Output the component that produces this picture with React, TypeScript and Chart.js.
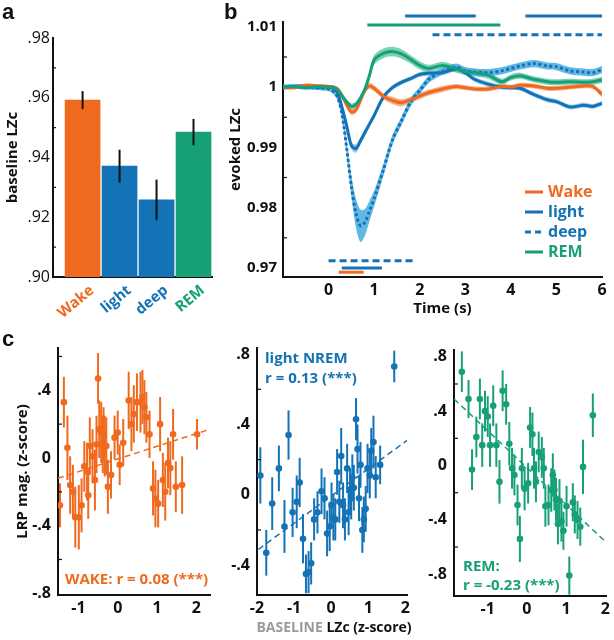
import React, { useEffect, useRef } from "react";
import { Chart, registerables } from "chart.js";

Chart.register(...registerables);

const ORANGE = "#EF6A1E";
const BLUE = "#1472B6";
const GREEN = "#17A078";
const ORANGE_BAND = "rgba(244,150,100,0.75)";
const LIGHT_BAND = "rgba(90,165,220,0.6)";
const DEEP_BAND = "rgba(70,172,225,0.85)";
const GREEN_BAND = "rgba(70,190,150,0.7)";
const INK = "#111111";
const GREY = "#9a9a9a";
const FONT = "'Open Sans', 'DejaVu Sans', sans-serif";

// ---------------- panel a
const STAGES = ["Wake", "light", "deep", "REM"];
const STAGE_POS = [1, 2, 3, 4];
const STAGE_COLORS = [ORANGE, BLUE, BLUE, GREEN];
const BASELINE_LZC = [0.9592, 0.9371, 0.9258, 0.9485];
const BASELINE_ERR = [0.003, 0.0055, 0.0068, 0.0044];
const A_Y_TICKS = [0.9, 0.92, 0.94, 0.96, 0.98];
const A_Y_MINOR = [0.91, 0.93, 0.95, 0.97];

// ---------------- panel b
const TIME = [-1, -0.75, -0.5, -0.25, 0, 0.1, 0.2, 0.3, 0.4, 0.5, 0.6, 0.7, 0.8, 0.9, 1.0, 1.2, 1.4, 1.6, 1.8, 2.0, 2.2, 2.5, 2.8, 3.0, 3.2, 3.5, 3.8, 4.0, 4.2, 4.5, 4.8, 5.0, 5.3, 5.6, 5.8, 6.0];
const WAKE_MEAN = [1.0, 0.9999, 1.0003, 1.0002, 1.0001, 1.0, 0.9997, 0.9985, 0.997, 0.9959, 0.9962, 0.9978, 0.9995, 1.0002, 0.9998, 0.9985, 0.9978, 0.9974, 0.9979, 0.9985, 0.9991, 0.9997, 1.0001, 0.9999, 0.9997, 0.9997, 1.0001, 1.0, 1.0003, 1.0002, 0.9998, 0.9998, 1.0, 1.0002, 1.0001, 0.9988];
const WAKE_SEM = [0.0003, 0.0003, 0.0003, 0.0003, 0.0003, 0.0003, 0.0003, 0.0004, 0.0005, 0.0005, 0.0005, 0.0005, 0.0005, 0.0005, 0.0005, 0.0005, 0.0006, 0.0006, 0.0005, 0.0005, 0.0005, 0.0005, 0.0004, 0.0004, 0.0004, 0.0004, 0.0004, 0.0004, 0.0004, 0.0004, 0.0004, 0.0004, 0.0004, 0.0004, 0.0004, 0.0005];
const LIGHT_MEAN = [1.0, 1.0001, 1.0002, 1.0, 1.0, 0.9998, 0.999, 0.9965, 0.9935, 0.9903, 0.9898, 0.9911, 0.9925, 0.9939, 0.9953, 0.9983, 0.9999, 1.0008, 1.0014, 1.0021, 1.0023, 1.0024, 1.003, 1.0024, 1.0013, 1.0005, 1.0, 0.9999, 0.9998, 0.9988, 0.9979, 0.9976, 0.9967, 0.997, 0.9968, 0.9973];
const LIGHT_SEM = [0.0003, 0.0003, 0.0003, 0.0003, 0.0003, 0.0003, 0.0004, 0.0005, 0.0006, 0.0006, 0.0007, 0.0006, 0.0006, 0.0005, 0.0005, 0.0005, 0.0004, 0.0004, 0.0004, 0.0004, 0.0004, 0.0004, 0.0004, 0.0004, 0.0004, 0.0004, 0.0004, 0.0004, 0.0004, 0.0004, 0.0004, 0.0004, 0.0004, 0.0004, 0.0004, 0.0004];
const DEEP_MEAN = [1.0, 1.0001, 1.0, 0.9999, 0.9997, 0.9993, 0.9983, 0.9953, 0.9897, 0.9836, 0.9791, 0.977, 0.9776, 0.9795, 0.9815, 0.9862, 0.9912, 0.9944, 0.9975, 0.9994, 1.0013, 1.0026, 1.0033, 1.0027, 1.0025, 1.0024, 1.0027, 1.0031, 1.0035, 1.0039, 1.0035, 1.0034, 1.0027, 1.0025, 1.0024, 1.0029];
const DEEP_SEM = [0.0004, 0.0004, 0.0004, 0.0004, 0.0004, 0.0004, 0.0005, 0.0008, 0.0012, 0.0016, 0.0024, 0.0027, 0.0022, 0.0017, 0.0013, 0.001, 0.0008, 0.0007, 0.0007, 0.0006, 0.0006, 0.0006, 0.0006, 0.0006, 0.0006, 0.0006, 0.0006, 0.0006, 0.0006, 0.0006, 0.0006, 0.0006, 0.0006, 0.0006, 0.0006, 0.0006];
const REM_MEAN = [1.0, 1.0001, 0.9999, 1.0001, 1.0, 1.0, 0.9995, 0.9985, 0.9975, 0.9968, 0.9971, 0.9982, 0.9997, 1.002, 1.0045, 1.0056, 1.0059, 1.0055, 1.0046, 1.0036, 1.0031, 1.0036, 1.003, 1.0026, 1.0024, 1.002, 1.0009, 1.0016, 1.0019, 1.0013, 1.0009, 1.0008, 1.0009, 1.0008, 1.0009, 1.0012];
const REM_SEM = [0.0003, 0.0003, 0.0003, 0.0003, 0.0003, 0.0003, 0.0004, 0.0005, 0.0005, 0.0005, 0.0005, 0.0005, 0.0006, 0.0007, 0.0008, 0.0008, 0.0008, 0.0008, 0.0007, 0.0007, 0.0006, 0.0006, 0.0006, 0.0006, 0.0006, 0.0006, 0.0005, 0.0005, 0.0005, 0.0005, 0.0005, 0.0005, 0.0005, 0.0005, 0.0005, 0.0005];
// significance bars: [start, end] in seconds, and their level on the LZc axis
const SIG_LIGHT_TOP = [[1.68, 3.23], [4.32, 6.0]];
const SIG_LIGHT_TOP_LEVEL = 1.0118;
const SIG_REM_TOP = [[0.85, 3.77]];
const SIG_REM_TOP_LEVEL = 1.0103;
const SIG_DEEP_TOP = [[2.28, 6.0]];
const SIG_DEEP_TOP_LEVEL = 1.0087;
const SIG_DEEP_BOTTOM = [[0.0, 1.88]];
const SIG_DEEP_BOTTOM_LEVEL = 0.9712;
const SIG_LIGHT_BOTTOM = [[0.29, 1.17]];
const SIG_LIGHT_BOTTOM_LEVEL = 0.97;
const SIG_WAKE_BOTTOM = [[0.22, 0.77]];
const SIG_WAKE_BOTTOM_LEVEL = 0.9693;
const B_Y_TICKS = [0.97, 0.98, 0.99, 1, 1.01];
const B_Y_MINOR = [0.975, 0.985, 0.995, 1.005];
const B_X_TICKS = [0, 1, 2, 3, 4, 5, 6];
const LEGEND_LABELS = ["Wake", "light", "deep", "REM"];

// ---------------- panel c
const WAKE_X = [-1.47, -1.37, -1.28, -1.21, -1.14, -1.08, -0.99, -0.92, -0.85, -0.78, -0.75, -0.71, -0.64, -0.58, -0.54, -0.5, -0.47, -0.42, -0.38, -0.36, -0.33, -0.29, -0.25, -0.17, -0.08, 0.0, 0.05, 0.14, 0.28, 0.35, 0.41, 0.49, 0.58, 0.63, 0.68, 0.73, 0.81, 0.9, 0.96, 1.03, 1.08, 1.15, 1.21, 1.28, 1.34, 1.41, 1.48, 1.64, 2.02];
const WAKE_Y = [-0.28, 0.33, 0.06, -0.16, -0.2, -0.35, -0.35, -0.28, -0.05, -0.08, -0.22, 0.07, 0.01, -0.13, 0.08, 0.47, 0.17, 0.15, 0.08, 0.14, 0.07, 0.07, -0.17, -0.1, 0.12, 0.15, -0.04, 0.09, 0.34, 0.2, 0.26, 0.33, 0.33, 0.36, 0.3, 0.24, 0.14, -0.18, -0.24, -0.27, 0.2, -0.13, -0.2, -0.03, -0.06, 0.14, -0.17, -0.16, 0.14];
const WAKE_ERR = [0.13, 0.15, 0.19, 0.17, 0.16, 0.18, 0.19, 0.16, 0.15, 0.17, 0.14, 0.17, 0.16, 0.18, 0.17, 0.15, 0.17, 0.18, 0.17, 0.16, 0.18, 0.17, 0.16, 0.14, 0.13, 0.13, 0.12, 0.14, 0.17, 0.16, 0.17, 0.17, 0.18, 0.16, 0.16, 0.15, 0.14, 0.16, 0.17, 0.14, 0.16, 0.16, 0.17, 0.15, 0.16, 0.15, 0.15, 0.17, 0.09];
const WAKE_FIT_X = [-1.52, 2.35];
const WAKE_FIT_Y = [-0.12, 0.17];

const LIGHT_X = [-1.91, -1.75, -1.59, -1.41, -1.26, -1.15, -1.04, -0.93, -0.85, -0.76, -0.68, -0.61, -0.54, -0.46, -0.37, -0.26, -0.18, -0.11, -0.04, 0.01, 0.06, 0.11, 0.16, 0.22, 0.27, 0.32, 0.37, 0.43, 0.47, 0.51, 0.54, 0.57, 0.61, 0.67, 0.71, 0.75, 0.79, 0.84, 0.88, 0.93, 0.98, 1.04, 1.08, 1.14, 1.2, 1.32, 1.7];
const LIGHT_Y = [0.11, -0.33, -0.05, 0.15, -0.18, 0.34, -0.1, -0.04, 0.07, -0.25, -0.45, -0.44, -0.39, -0.14, -0.1, 0.02, -0.02, -0.22, -0.18, -0.06, -0.13, -0.14, 0.13, -0.04, 0.22, -0.06, -0.14, 0.15, -0.1, 0.03, -0.02, 0.1, 0.04, 0.43, 0.26, -0.02, 0.17, -0.2, -0.14, -0.08, 0.15, 0.11, 0.25, 0.3, 0.1, 0.17, 0.73];
const LIGHT_ERR = [0.16, 0.13, 0.15, 0.13, 0.15, 0.14, 0.14, 0.15, 0.14, 0.14, 0.11, 0.12, 0.12, 0.12, 0.12, 0.13, 0.12, 0.13, 0.14, 0.13, 0.13, 0.12, 0.13, 0.12, 0.16, 0.13, 0.12, 0.14, 0.13, 0.12, 0.12, 0.13, 0.13, 0.12, 0.14, 0.13, 0.13, 0.13, 0.13, 0.13, 0.14, 0.13, 0.13, 0.15, 0.12, 0.11, 0.09];
const LIGHT_FIT_X = [-1.96, 2.05];
const LIGHT_FIT_Y = [-0.31, 0.31];

const REM_X = [-1.66, -1.49, -1.4, -1.29, -1.2, -1.14, -1.07, -1.0, -0.94, -0.86, -0.78, -0.7, -0.62, -0.53, -0.45, -0.38, -0.32, -0.24, -0.18, -0.13, -0.06, 0.03, 0.08, 0.14, 0.18, 0.23, 0.3, 0.38, 0.43, 0.47, 0.55, 0.62, 0.66, 0.7, 0.74, 0.79, 0.83, 0.88, 0.93, 1.01, 1.08, 1.17, 1.22, 1.29, 1.36, 1.43, 1.68];
const REM_Y = [0.69, 0.49, -0.03, 0.21, 0.49, 0.15, 0.4, 0.36, 0.15, 0.44, 0.15, -0.12, 0.55, 0.45, 0.16, -0.02, -0.07, -0.29, -0.54, -0.02, -0.17, -0.13, 0.28, 0.23, -0.02, -0.12, 0.1, 0.06, -0.02, -0.3, -0.29, -0.18, -0.07, -0.18, -0.25, -0.43, -0.26, -0.41, -0.48, -0.3, -0.81, -0.27, -0.36, -0.4, -0.45, -0.01, 0.37];
const REM_ERR = [0.15, 0.14, 0.15, 0.15, 0.15, 0.16, 0.15, 0.15, 0.16, 0.15, 0.16, 0.16, 0.15, 0.15, 0.16, 0.15, 0.15, 0.15, 0.17, 0.15, 0.16, 0.15, 0.15, 0.16, 0.15, 0.15, 0.15, 0.15, 0.15, 0.15, 0.15, 0.16, 0.16, 0.15, 0.16, 0.15, 0.16, 0.15, 0.14, 0.15, 0.14, 0.14, 0.14, 0.14, 0.14, 0.2, 0.16];
const REM_FIT_X = [-1.86, 2.0];
const REM_FIT_Y = [0.49, -0.56];

// ---------------- helpers
const COMMON: any = {
  responsive: false,
  animation: false,
  devicePixelRatio: 1,
  events: [],
  plugins: { legend: { display: false }, tooltip: { enabled: false } },
};

const font = (size: number, weight: any = "bold") => ({ family: FONT, size, weight });

const fmtDot = (v: number) => {
  if (Math.abs(v) < 1e-9) return "0";
  return (v < 0 ? "-" : "") + Math.abs(v).toFixed(1).replace(/^0/, "");
};
const fmtA = (v: number) => v.toFixed(2).replace(/^0/, "");
const fmtB = (v: number) => (Math.abs(v - 1) < 1e-9 ? "1" : v.toFixed(2));

function linAxis(o: {
  min: number; max: number; ticks: number[]; fmt: (v: number) => string;
  vertical: boolean; size: number; title?: string; tickSize?: number; weight?: any;
  pad?: number; titlePad?: number; showTicks?: boolean;
}) {
  return {
    type: "linear",
    min: o.min,
    max: o.max,
    offset: false,
    afterBuildTicks: (s: any) => { s.ticks = o.ticks.map((v) => ({ value: v })); },
    afterFit: (s: any) => { if (o.vertical) s.width = o.size; else s.height = o.size; },
    grid: { display: true, drawOnChartArea: false, drawTicks: false, offset: false },
    border: { display: true, color: INK, width: 2 },
    ticks: {
      display: o.showTicks ?? true,
      autoSkip: false, maxRotation: 0, minRotation: 0, color: INK,
      padding: o.pad ?? 6,
      font: font(o.tickSize ?? 15, o.weight ?? "bold"),
      callback: (v: any) => o.fmt(Number(v)),
    },
    title: o.title
      ? { display: true, text: o.title, color: INK, font: font(15, "bold"), padding: { top: o.titlePad ?? 4, bottom: 2 } }
      : { display: false },
  };
}

function inTicksPlugin(id: string, yVals: number[], len: number) {
  return {
    id,
    afterDatasetsDraw(chart: any) {
      const { ctx, chartArea, scales } = chart;
      ctx.save();
      ctx.strokeStyle = INK;
      ctx.lineWidth = 1.2;
      yVals.forEach((v) => {
        const py = scales.y.getPixelForValue(v);
        ctx.beginPath();
        ctx.moveTo(chartArea.left, py);
        ctx.lineTo(chartArea.left + len, py);
        ctx.stroke();
      });
      ctx.restore();
    },
  };
}

function errorBarsPlugin(id: string, dsIndex: number, errs: number[], color: string, width: number, onTop: boolean) {
  const draw = (chart: any) => {
    const meta = chart.getDatasetMeta(dsIndex);
    const ds = chart.data.datasets[dsIndex];
    const ys = chart.scales.y;
    const ctx = chart.ctx;
    ctx.save();
    ctx.strokeStyle = color;
    ctx.lineWidth = width;
    meta.data.forEach((el: any, i: number) => {
      const v = ds.data[i].y;
      ctx.beginPath();
      ctx.moveTo(el.x, ys.getPixelForValue(v - errs[i]));
      ctx.lineTo(el.x, ys.getPixelForValue(v + errs[i]));
      ctx.stroke();
    });
    ctx.restore();
  };
  return onTop ? { id, afterDatasetsDraw: draw } : { id, beforeDatasetsDraw: draw };
}

// rotated category labels under the bars of panel a (HTML text), anchored at each bar's x from the scale
function rotatedLabelsPlugin(id: string) {
  let nodes: HTMLDivElement[] = [];
  return {
    id,
    afterDraw(chart: any) {
      const canvas: HTMLCanvasElement = chart.canvas;
      const host = canvas.parentElement;
      if (!host) return;
      const xs = chart.scales.x;
      const top = canvas.offsetTop + chart.chartArea.bottom + 4;
      if (nodes.length === 0) {
        nodes = STAGES.map((s, i) => {
          const anchor = document.createElement("div");
          anchor.style.position = "absolute";
          anchor.style.width = "0px";
          anchor.style.height = "0px";
          const span = document.createElement("span");
          span.textContent = s;
          span.style.position = "absolute";
          span.style.right = "0px";
          span.style.top = "0px";
          span.style.whiteSpace = "nowrap";
          span.style.font = `bold 15px ${FONT}`;
          span.style.lineHeight = "17px";
          span.style.color = STAGE_COLORS[i];
          span.style.transformOrigin = "100% 0%";
          span.style.transform = "rotate(-40deg)";
          anchor.appendChild(span);
          host.appendChild(anchor);
          return anchor;
        });
      }
      nodes.forEach((n, i) => {
        n.style.left = `${canvas.offsetLeft + xs.getPixelForValue(STAGE_POS[i]) + 3}px`;
        n.style.top = `${top}px`;
      });
    },
    afterDestroy() {
      nodes.forEach((n) => n.remove());
      nodes = [];
    },
  };
}

type Run = { text: string; color: string };
type Label = { x: number; y: number; runs: Run[]; size: number; align?: "left" | "center" };
function textPlugin(id: string, labels: Label[]) {
  return {
    id,
    afterDraw(chart: any) {
      const ctx = chart.ctx;
      ctx.save();
      ctx.textBaseline = "middle";
      ctx.textAlign = "left";
      labels.forEach((l) => {
        ctx.font = `bold ${l.size}px ${FONT}`;
        const total = l.runs.reduce((s, r) => s + ctx.measureText(r.text).width, 0);
        let x = l.align === "center" ? l.x - total / 2 : l.x;
        l.runs.forEach((r) => {
          ctx.fillStyle = r.color;
          ctx.fillText(r.text, x, l.y);
          x += ctx.measureText(r.text).width;
        });
      });
      ctx.restore();
    },
  };
}

function legendPlugin(id: string, items: { label: string; color: string; dash: number[] }[]) {
  return {
    id,
    afterDraw(chart: any) {
      const ctx = chart.ctx;
      ctx.save();
      ctx.textBaseline = "middle";
      ctx.font = `bold 16px ${FONT}`;
      items.forEach((it, i) => {
        const y = 192 + i * 20;
        ctx.strokeStyle = it.color;
        ctx.lineWidth = 3;
        ctx.setLineDash(it.dash);
        ctx.beginPath();
        ctx.moveTo(310, y);
        ctx.lineTo(328, y);
        ctx.stroke();
        ctx.setLineDash([]);
        ctx.fillStyle = it.color;
        ctx.fillText(it.label, 333, y);
      });
      ctx.restore();
    },
  };
}

// ---------------- panel configs
function makePanelA() {
  return {
    type: "bar",
    data: {
      datasets: [
        {
          data: STAGE_POS.map((x, i) => ({ x, y: BASELINE_LZC[i] })),
          backgroundColor: STAGE_COLORS,
          borderWidth: 0,
          barThickness: 35,
        },
      ],
    },
    options: {
      ...COMMON,
      layout: { padding: { top: 38, right: 3, left: 0, bottom: 0 } },
      scales: {
        x: linAxis({ min: 0.2, max: 4.5, ticks: STAGE_POS, fmt: () => "", vertical: false, size: 43, showTicks: false }),
        y: linAxis({ min: 0.9, max: 0.98, ticks: A_Y_TICKS, fmt: fmtA, vertical: true, size: 53, title: "baseline LZc", weight: "normal", tickSize: 16, pad: 3 }),
      },
    },
    plugins: [errorBarsPlugin("errA", 0, BASELINE_ERR, INK, 2, true), inTicksPlugin("tickA", A_Y_MINOR, 3), rotatedLabelsPlugin("labA")],
  };
}

function bandSets(mean: number[], sem: number[], color: string, band: string, dash: number[], order: number) {
  const clear = "rgba(0,0,0,0)";
  return [
    { data: TIME.map((t, i) => ({ x: t, y: mean[i] + sem[i] })), borderColor: clear, borderWidth: 0, pointRadius: 0, fill: "+1", backgroundColor: band, order: 20, tension: 0.3 },
    { data: TIME.map((t, i) => ({ x: t, y: mean[i] - sem[i] })), borderColor: clear, borderWidth: 0, pointRadius: 0, fill: false, order: 20, tension: 0.3 },
    { data: TIME.map((t, i) => ({ x: t, y: mean[i] })), borderColor: color, borderWidth: 3, borderDash: dash, pointRadius: 0, fill: false, order, tension: 0.3 },
  ];
}

function sigSets(segs: number[][], level: number, color: string, dash: number[]) {
  return segs.map((s) => ({
    data: [{ x: s[0], y: level }, { x: s[1], y: level }],
    borderColor: color, borderWidth: 3, borderDash: dash, pointRadius: 0, fill: false, clip: false, order: 0,
  }));
}

function makePanelB() {
  return {
    type: "line",
    data: {
      datasets: [
        ...bandSets(DEEP_MEAN, DEEP_SEM, BLUE, DEEP_BAND, [3, 2.5], 4),
        ...bandSets(LIGHT_MEAN, LIGHT_SEM, BLUE, LIGHT_BAND, [], 3),
        ...bandSets(WAKE_MEAN, WAKE_SEM, ORANGE, ORANGE_BAND, [], 2),
        ...bandSets(REM_MEAN, REM_SEM, GREEN, GREEN_BAND, [], 1),
        ...sigSets(SIG_LIGHT_TOP, SIG_LIGHT_TOP_LEVEL, BLUE, []),
        ...sigSets(SIG_REM_TOP, SIG_REM_TOP_LEVEL, GREEN, []),
        ...sigSets(SIG_DEEP_TOP, SIG_DEEP_TOP_LEVEL, BLUE, [7, 4]),
        ...sigSets(SIG_DEEP_BOTTOM, SIG_DEEP_BOTTOM_LEVEL, BLUE, [7, 4]),
        ...sigSets(SIG_LIGHT_BOTTOM, SIG_LIGHT_BOTTOM_LEVEL, BLUE, []),
        ...sigSets(SIG_WAKE_BOTTOM, SIG_WAKE_BOTTOM_LEVEL, ORANGE, []),
      ],
    },
    options: {
      ...COMMON,
      layout: { padding: { top: 22, right: 12, left: 0, bottom: 0 } },
      scales: {
        x: linAxis({ min: -1, max: 6, ticks: B_X_TICKS, fmt: (v) => String(v), vertical: false, size: 43, title: "Time (s)", pad: 4, tickSize: 16 }),
        y: linAxis({ min: 0.9685, max: 1.0108, ticks: B_Y_TICKS, fmt: fmtB, vertical: true, size: 68, title: "evoked LZc", pad: 6, titlePad: 12 }),
      },
    },
    plugins: [
      inTicksPlugin("tickB", B_Y_MINOR, 4),
      legendPlugin("legB", [
        { label: LEGEND_LABELS[0], color: ORANGE, dash: [] },
        { label: LEGEND_LABELS[1], color: BLUE, dash: [] },
        { label: LEGEND_LABELS[2], color: BLUE, dash: [6, 4] },
        { label: LEGEND_LABELS[3], color: GREEN, dash: [] },
      ]),
    ],
  };
}

function makeScatter(p: {
  id: string; xs: number[]; ys: number[]; errs: number[]; fitX: number[]; fitY: number[]; color: string;
  xmin: number; xmax: number; ymin: number; ymax: number; xTicks: number[]; yTicks: number[]; yMinor: number[];
  yWidth: number; xHeight: number; padTop: number; padRight: number; yTitle?: string; labels: Label[];
}) {
  return {
    type: "scatter",
    data: {
      datasets: [
        { data: p.xs.map((x, i) => ({ x, y: p.ys[i] })), backgroundColor: p.color, borderWidth: 0, pointRadius: 3.3, order: 1 },
        { data: p.fitX.map((x, i) => ({ x, y: p.fitY[i] })), showLine: true, borderColor: p.color, borderWidth: 1.5, borderDash: [6, 4], pointRadius: 0, order: 2 },
      ],
    },
    options: {
      ...COMMON,
      layout: { padding: { top: p.padTop, right: p.padRight, left: 0, bottom: 0 } },
      scales: {
        x: linAxis({ min: p.xmin, max: p.xmax, ticks: p.xTicks, fmt: (v) => String(v), vertical: false, size: p.xHeight, pad: 4, tickSize: 16 }),
        y: linAxis({ min: p.ymin, max: p.ymax, ticks: p.yTicks, fmt: fmtDot, vertical: true, size: p.yWidth, title: p.yTitle, pad: 7, titlePad: 14, tickSize: 16 }),
      },
    },
    plugins: [
      errorBarsPlugin("err" + p.id, 0, p.errs, p.color, 2, false),
      inTicksPlugin("tick" + p.id, p.yMinor, 4),
      textPlugin("txt" + p.id, p.labels),
    ],
  };
}

const makeC1 = () => makeScatter({
  id: "c1", xs: WAKE_X, ys: WAKE_Y, errs: WAKE_ERR, fitX: WAKE_FIT_X, fitY: WAKE_FIT_Y, color: ORANGE,
  xmin: -1.52, xmax: 2.35, ymin: -0.81, ymax: 0.65, xTicks: [-1, 0, 1, 2], yTicks: [-0.8, -0.4, 0, 0.4], yMinor: [-0.6, -0.2, 0.2, 0.6],
  yWidth: 58, xHeight: 45, padTop: 28, padRight: 5, yTitle: "LRP mag. (z-score)",
  labels: [{ x: 65, y: 260, size: 15, runs: [{ text: "WAKE: r = 0.08 (***)", color: ORANGE }] }],
});

const makeC2 = () => makeScatter({
  id: "c2", xs: LIGHT_X, ys: LIGHT_Y, errs: LIGHT_ERR, fitX: LIGHT_FIT_X, fitY: LIGHT_FIT_Y, color: BLUE,
  xmin: -2, xmax: 2.05, ymin: -0.57, ymax: 0.835, xTicks: [-2, -1, 0, 1, 2], yTicks: [-0.4, 0, 0.4, 0.8], yMinor: [-0.2, 0.2, 0.6],
  yWidth: 42, xHeight: 45, padTop: 28, padRight: 4,
  labels: [
    { x: 50, y: 39, size: 15, runs: [{ text: "light NREM", color: BLUE }] },
    { x: 50, y: 59, size: 15, runs: [{ text: "r = 0.13 (***)", color: BLUE }] },
    { x: 119, y: 308, size: 14, align: "center", runs: [{ text: "BASELINE", color: GREY }, { text: " LZc (z-score)", color: INK }] },
  ],
});

const makeC3 = () => makeScatter({
  id: "c3", xs: REM_X, ys: REM_Y, errs: REM_ERR, fitX: REM_FIT_X, fitY: REM_FIT_Y, color: GREEN,
  xmin: -1.86, xmax: 2.04, ymin: -0.96, ymax: 0.85, xTicks: [-1, 0, 1, 2], yTicks: [-0.8, -0.4, 0, 0.4, 0.8], yMinor: [-0.6, -0.2, 0.2, 0.6],
  yWidth: 40, xHeight: 44, padTop: 30, padRight: 5,
  labels: [
    { x: 49, y: 247, size: 15, runs: [{ text: "REM:", color: GREEN }] },
    { x: 49, y: 266, size: 15, runs: [{ text: "r = -0.23 (***)", color: GREEN }] },
  ],
});

function ChartBox(props: { left: number; top: number; width: number; height: number; make: () => any }) {
  const ref = useRef<HTMLCanvasElement>(null);
  useEffect(() => {
    const chart = new Chart(ref.current as HTMLCanvasElement, props.make());
    return () => chart.destroy();
  }, []);
  return (
    <canvas
      ref={ref}
      width={props.width}
      height={props.height}
      style={{ position: "absolute", left: props.left, top: props.top, width: props.width, height: props.height, display: "block" }}
    />
  );
}

const letter = (left: number, top: number): React.CSSProperties => ({
  position: "absolute", left, top, font: "bold 22px Arial, 'Liberation Sans', sans-serif", lineHeight: "22px", color: INK,
});

export default function App() {
  return (
    <div style={{ position: "absolute", left: 0, top: 0, width: 614, height: 640, background: "#fff", overflow: "hidden" }}>
      <ChartBox left={0} top={0} width={215} height={320} make={makePanelA} />
      <ChartBox left={215} top={0} width={399} height={320} make={makePanelB} />
      <ChartBox left={0} top={320} width={215} height={320} make={makeC1} />
      <ChartBox left={215} top={320} width={199} height={320} make={makeC2} />
      <ChartBox left={414} top={320} width={200} height={320} make={makeC3} />
      <div style={letter(2, 1)}>a</div>
      <div style={letter(224, 1)}>b</div>
      <div style={letter(2, 328)}>c</div>
    </div>
  );
}
